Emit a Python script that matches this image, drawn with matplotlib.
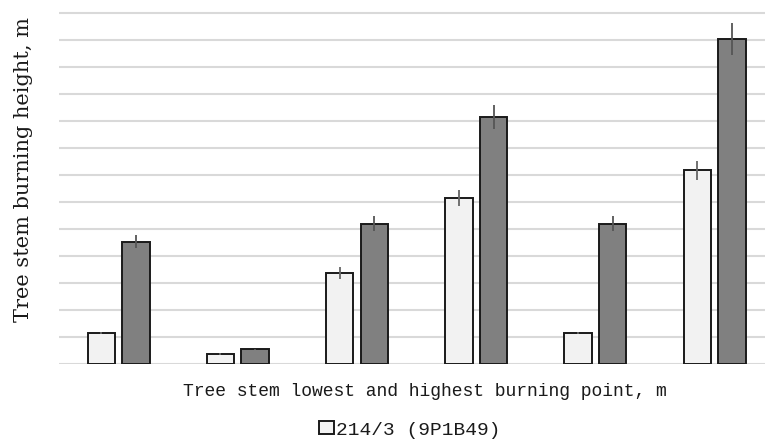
import numpy as np
import matplotlib
matplotlib.use("Agg")
import matplotlib.pyplot as plt

# values (grid step = 0.5 m)
groups = np.arange(6)
light_vals = [0.58, 0.19, 1.69, 3.08, 0.58, 3.59]
light_err = [0.02, 0.02, 0.11, 0.15, 0.02, 0.18]
dark_vals = [2.27, 0.28, 2.60, 4.58, 2.60, 6.02]
dark_err = [0.12, 0.01, 0.14, 0.22, 0.14, 0.30]
legend_label = "214/3 (9P1B49)"
xlabel = "Tree stem lowest and highest burning point, m"
ylabel = "Tree stem burning height, m"

W, H = 765, 441
fig = plt.figure(figsize=(W / 100, H / 100), dpi=100)
left_px, right_px, bottom_px, top_px = 58.9, 765, 76.7, 436
ax = fig.add_axes([left_px / W, bottom_px / H, (right_px - left_px) / W, (top_px - bottom_px) / H])

step = 119.24  # px per category
ax.set_xlim(-0.5, -0.5 + (right_px - left_px) / step)
ax.set_ylim(0, (top_px - bottom_px) / 54.0)

bw = 0.23
off = 0.145
b1 = ax.bar(groups - off, light_vals, bw, color='#f2f2f2', edgecolor='#1a1a1a', linewidth=1.4, zorder=3)
ax.errorbar(groups - off, light_vals, yerr=light_err, fmt='none', ecolor='#666666', elinewidth=1.3, capsize=0, zorder=4)
ax.bar(groups + off, dark_vals, bw, color='#808080', edgecolor='#1a1a1a', linewidth=1.4, zorder=3)
ax.errorbar(groups + off, dark_vals, yerr=dark_err, fmt='none', ecolor='#555555', elinewidth=1.3, capsize=0, zorder=4)

ax.set_yticks(np.arange(0, 6.6, 0.5))
ax.yaxis.grid(True, color='#d9d9d9', linewidth=1.5, zorder=0)
ax.set_xticks([])
ax.tick_params(axis='y', length=0, labelleft=False)
for s in ax.spines.values():
    s.set_visible(False)

fig.text(24 / W, 1 - 170 / H, ylabel, rotation=90, ha='center', va='center',
         fontsize=15, family='DejaVu Serif', color='#1a1a1a')
fig.text(425 / W, 1 - 391 / H, xlabel, ha='center', va='center',
         fontsize=13, family='Liberation Mono', color='#1a1a1a')
fig.legend([b1], [legend_label], loc='center', bbox_to_anchor=(410 / W, 1 - 430 / H),
           frameon=False, prop={'family': 'Liberation Mono', 'size': 14},
           handlelength=0.75, handleheight=0.6, handletextpad=0.15, labelcolor='#1a1a1a')

fig.savefig("out.png", dpi=100)
